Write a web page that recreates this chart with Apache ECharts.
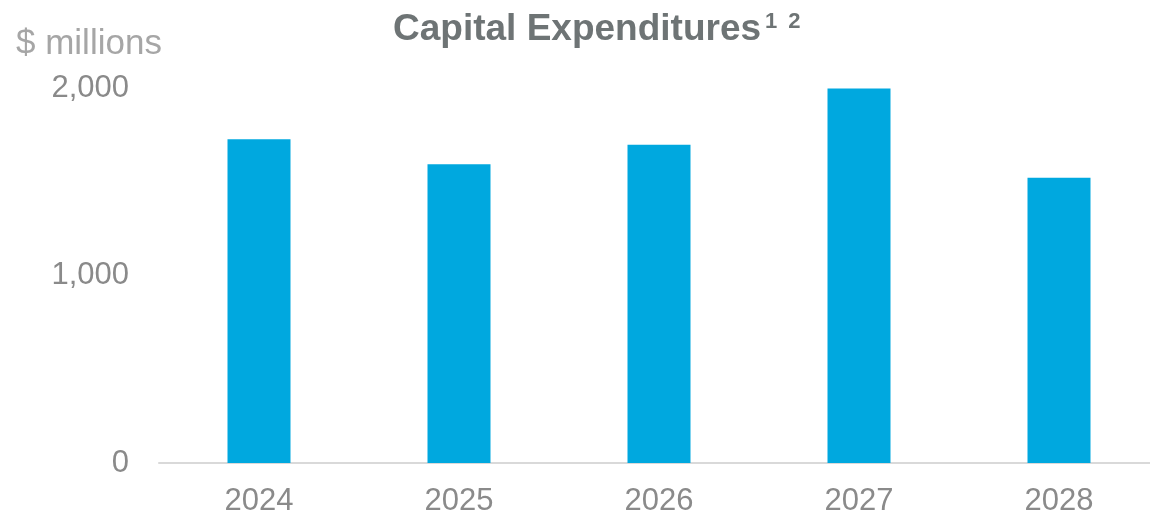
<!DOCTYPE html>
<html><head><meta charset="utf-8">
<script src="https://cdn.jsdelivr.net/npm/echarts@6/dist/echarts.min.js"></script>
<style>html,body{margin:0;padding:0;background:#fff;overflow:hidden;width:1150px;height:517px}#c{width:1160px;height:517px}</style>
</head><body><div id="c"></div>
<script>
const categories = ['2024', '2025', '2026', '2027', '2028'];
const capex = [1729, 1596, 1699, 2000, 1523];
const yTicks = [0, 1000, 2000];

const chart = echarts.init(document.getElementById('c'), null, {renderer: 'canvas'});
chart.setOption({
  animation: false,
  backgroundColor: '#ffffff',
  title: {
    text: '{t|Capital Expenditures}{s|1}{s2|2}',
    left: 393, top: 11, padding: 0,
    textStyle: {
      rich: {
        t: {fontFamily: 'Liberation Sans, Arial, sans-serif', fontWeight: 'bold', fontSize: 37, color: '#6e7475', verticalAlign: 'bottom'},
        s: {fontFamily: 'Liberation Sans, Arial, sans-serif', fontWeight: 'bold', fontSize: 22, color: '#6e7475', verticalAlign: 'top', padding: [0,0,13,4]},
        s2: {fontFamily: 'Liberation Sans, Arial, sans-serif', fontWeight: 'bold', fontSize: 22, color: '#6e7475', verticalAlign: 'top', padding: [0,0,13,11]}
      }
    }
  },
  graphic: [{
    type: 'text', left: 16, top: 27,
    style: {text: '$ millions', font: '35px "Liberation Sans", Arial, sans-serif', fill: '#a6a6a6'}
  }],
  grid: {left: 159, top: 88.5, right: 1, bottom: 53.5, containLabel: false},
  xAxis: {
    type: 'category', data: categories,
    axisLine: {show: true, lineStyle: {color: '#d9d9d9', width: 2}},
    axisTick: {show: false},
    axisLabel: {color: '#8a8a8a', fontSize: 31, fontFamily: 'Liberation Sans, Arial, sans-serif', margin: 23}
  },
  yAxis: {
    type: 'value', min: 0, max: 2000, interval: 1000,
    axisLine: {show: false}, axisTick: {show: false}, splitLine: {show: false},
    axisLabel: {
      color: '#8a8a8a', fontSize: 31, fontFamily: 'Liberation Sans, Arial, sans-serif', margin: 30,
      formatter: v => yTicks.includes(v) ? v.toLocaleString('en-US') : ''
    }
  },
  series: [{
    type: 'bar', data: capex, barWidth: 63,
    itemStyle: {color: '#00a8df'}
  }]
});
</script></body></html>
